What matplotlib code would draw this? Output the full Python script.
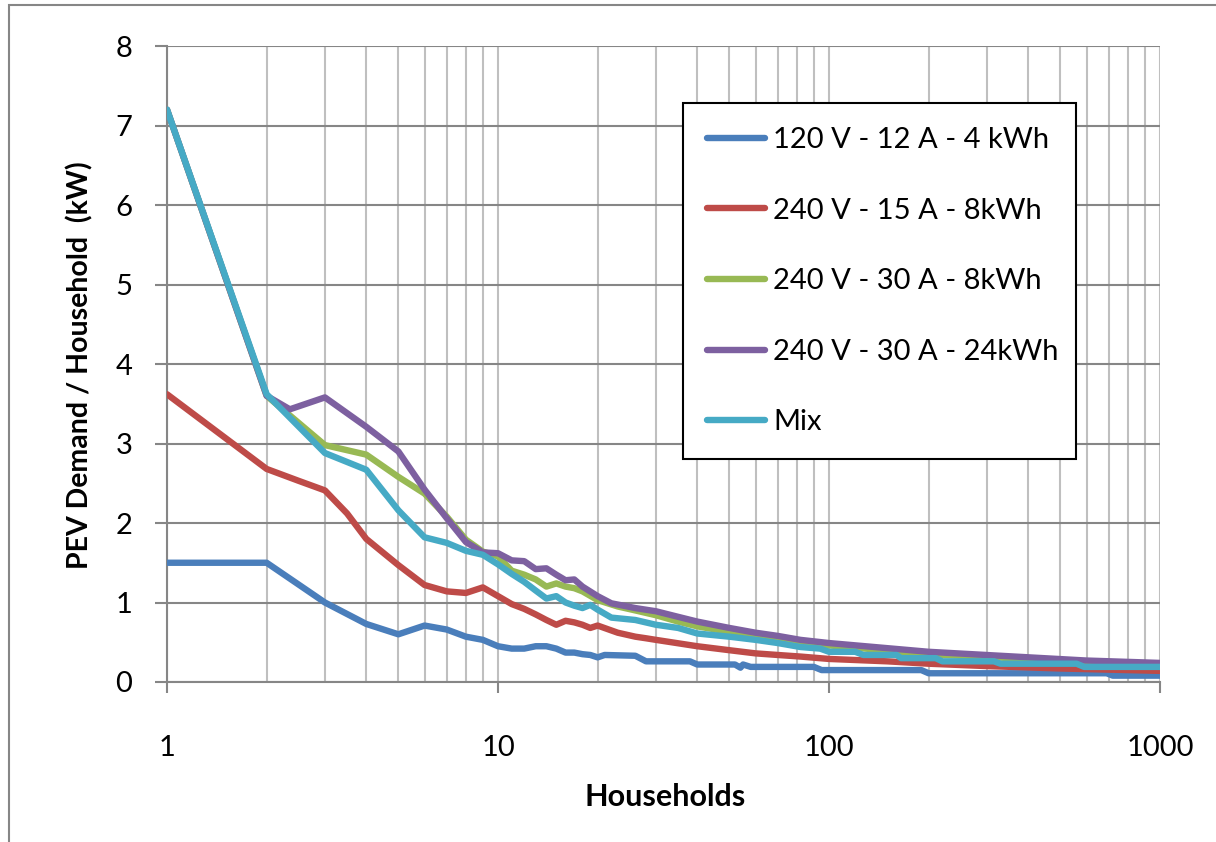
import numpy as np
import matplotlib
matplotlib.use("Agg")
import matplotlib.pyplot as plt
from matplotlib.patches import Rectangle
from matplotlib.ticker import FixedLocator, NullFormatter, FixedFormatter

plt.rcParams['font.family'] = ['Lato', 'DejaVu Sans']

# ---- data ----
blue_x = [1, 2, 3, 4, 5, 6, 7, 8, 9, 10, 11, 12, 13, 14, 15, 16, 17, 18, 19,
          20, 21, 26, 28, 38, 40, 52, 54, 55, 58, 90, 95, 190, 200, 690, 720,
          1000]
blue_y = [1.5, 1.5, 1.0, 0.73, 0.60, 0.71, 0.66, 0.57, 0.53, 0.45, 0.42, 0.42,
          0.45, 0.45, 0.42, 0.37, 0.37, 0.35, 0.34, 0.31, 0.34, 0.33, 0.26,
          0.26, 0.22, 0.22, 0.18, 0.22, 0.19, 0.19, 0.15, 0.15, 0.11, 0.11,
          0.08, 0.08]

red_x = [1, 2, 2.5, 3, 3.5, 4, 5, 6, 7, 8, 9, 10, 11, 12, 13, 14, 15, 16, 17,
         18, 19, 20, 23, 26, 28, 30, 40, 50, 60, 70, 82, 100, 150, 200, 300,
         500, 1000]
red_y = [3.62, 2.68, 2.53, 2.41, 2.12, 1.80, 1.47, 1.22, 1.14, 1.12, 1.19,
         1.08, 0.98, 0.92, 0.85, 0.78, 0.72, 0.77, 0.75, 0.72, 0.68, 0.71,
         0.62, 0.57, 0.55, 0.53, 0.45, 0.40, 0.36, 0.34, 0.32, 0.29, 0.26,
         0.23, 0.20, 0.17, 0.14]

green_x = [1, 2, 3, 4, 5, 6, 7, 8, 9, 10, 11, 12, 13, 14, 15, 16, 17, 18, 20,
           23, 26, 30, 35, 40, 50, 60, 80, 100, 200, 500, 1000]
green_y = [7.2, 3.6, 2.98, 2.86, 2.58, 2.37, 2.08, 1.79, 1.64, 1.58, 1.40,
           1.35, 1.29, 1.20, 1.24, 1.20, 1.18, 1.14, 1.03, 0.95, 0.90, 0.84,
           0.76, 0.70, 0.63, 0.58, 0.51, 0.46, 0.35, 0.27, 0.22]

purple_x = [1, 2, 2.35, 3, 4, 5, 6, 7, 8, 9, 10, 11, 12, 13, 14, 15, 16, 17,
            18, 20, 22, 26, 30, 35, 40, 50, 60, 70, 82, 100, 200, 600, 1000]
purple_y = [7.2, 3.6, 3.43, 3.58, 3.21, 2.90, 2.42, 2.06, 1.76, 1.63, 1.62,
            1.53, 1.52, 1.42, 1.43, 1.35, 1.28, 1.29, 1.20, 1.08, 0.99, 0.93,
            0.89, 0.82, 0.76, 0.68, 0.62, 0.58, 0.53, 0.49, 0.38, 0.27, 0.24]

mix_x = [1, 2, 3, 4, 5, 6, 7, 8, 9, 10, 11, 12, 13, 14, 15, 16, 17, 18, 19,
         20, 22, 26, 30, 35, 40, 50, 60, 70, 82, 94, 100, 120, 127, 160, 165,
         210, 220, 315, 330, 560, 590, 1000]
mix_y = [7.2, 3.62, 2.88, 2.67, 2.16, 1.82, 1.75, 1.65, 1.60, 1.48, 1.36, 1.26,
         1.15, 1.05, 1.08, 1.00, 0.96, 0.93, 0.97, 0.91, 0.81, 0.78, 0.72,
         0.68, 0.61, 0.57, 0.53, 0.49, 0.44, 0.42, 0.38, 0.38, 0.34, 0.34,
         0.30, 0.30, 0.26, 0.26, 0.23, 0.23, 0.19, 0.19]

labels = ["120 V - 12 A - 4 kWh", "240 V - 15 A - 8kWh", "240 V - 30 A - 8kWh",
          "240 V - 30 A - 24kWh", "Mix"]
colors = ["#4A7EBB", "#BE4B48", "#98B954", "#7D60A0", "#46AAC5"]

xticks = [1, 10, 100, 1000]
yticks = [0, 1, 2, 3, 4, 5, 6, 7, 8]

fig = plt.figure(figsize=(12.16, 8.42), dpi=100)
ax = fig.add_axes([167/1216, 1 - 682/842, (1160 - 167)/1216, (682 - 46)/842])

series = [(blue_x, blue_y), (red_x, red_y), (green_x, green_y),
          (purple_x, purple_y), (mix_x, mix_y)]
for (x, y), c, lab in zip(series, colors, labels):
    ax.plot(x, y, color=c, lw=4.6, label=lab, solid_capstyle='round',
            solid_joinstyle='round', zorder=3)

ax.set_xscale('log')
ax.set_xlim(1, 1000)
ax.set_ylim(0, 8)

ax.xaxis.set_major_locator(FixedLocator(xticks))
ax.xaxis.set_major_formatter(FixedFormatter([str(t) for t in xticks]))
minors = [m * 10**d for d in range(3) for m in range(2, 10)]
ax.xaxis.set_minor_locator(FixedLocator(minors))
ax.xaxis.set_minor_formatter(NullFormatter())
ax.set_yticks(yticks)

dark = "#868686"
light = "#BFBFBF"
ax.grid(True, axis='y', which='major', color=dark, lw=1.5, zorder=1)
ax.grid(True, axis='x', which='both', color=light, lw=1.5, zorder=1)
for s in ['top', 'right']:
    ax.spines[s].set_visible(False)
for s in ['left', 'bottom']:
    ax.spines[s].set_color(dark)
    ax.spines[s].set_linewidth(1.5)
    ax.spines[s].set_zorder(2)

ax.tick_params(axis='x', which='major', length=8, width=1.5, color=dark,
               pad=30, labelsize=21)
ax.tick_params(axis='x', which='minor', length=0)
ax.tick_params(axis='y', which='major', length=9, width=1.5, color=dark,
               pad=16, labelsize=21)

fig.text(665/1216, 1 - 797/842, "Households", ha='center', va='center',
         fontsize=22, fontweight='bold')
fig.text(80/1216, 1 - 365/842, "PEV Demand / Household  (kW)", ha='center',
         va='center', rotation=90, fontsize=20.5, fontweight='bold')

leg = ax.legend(loc='upper left',
                bbox_to_anchor=(683/1216, 1 - 453/842, 393/1216, 350/842),
                bbox_transform=fig.transFigure, mode='expand',
                borderaxespad=0, fontsize=21, handlelength=2.0,
                handletextpad=0.28, labelspacing=1.53, borderpad=0.82,
                fancybox=False, framealpha=1)
leg.get_frame().set_edgecolor('black')
leg.get_frame().set_linewidth(1.5)
for h in leg.get_lines():
    h.set_solid_capstyle('round')

# outer chart border
fig.patches.append(Rectangle((9/1216, -0.1), 1.2, 1 - 5/842 + 0.1,
                             transform=fig.transFigure, fill=False,
                             edgecolor=dark, lw=1.5))

fig.savefig("out.png", dpi=100)
